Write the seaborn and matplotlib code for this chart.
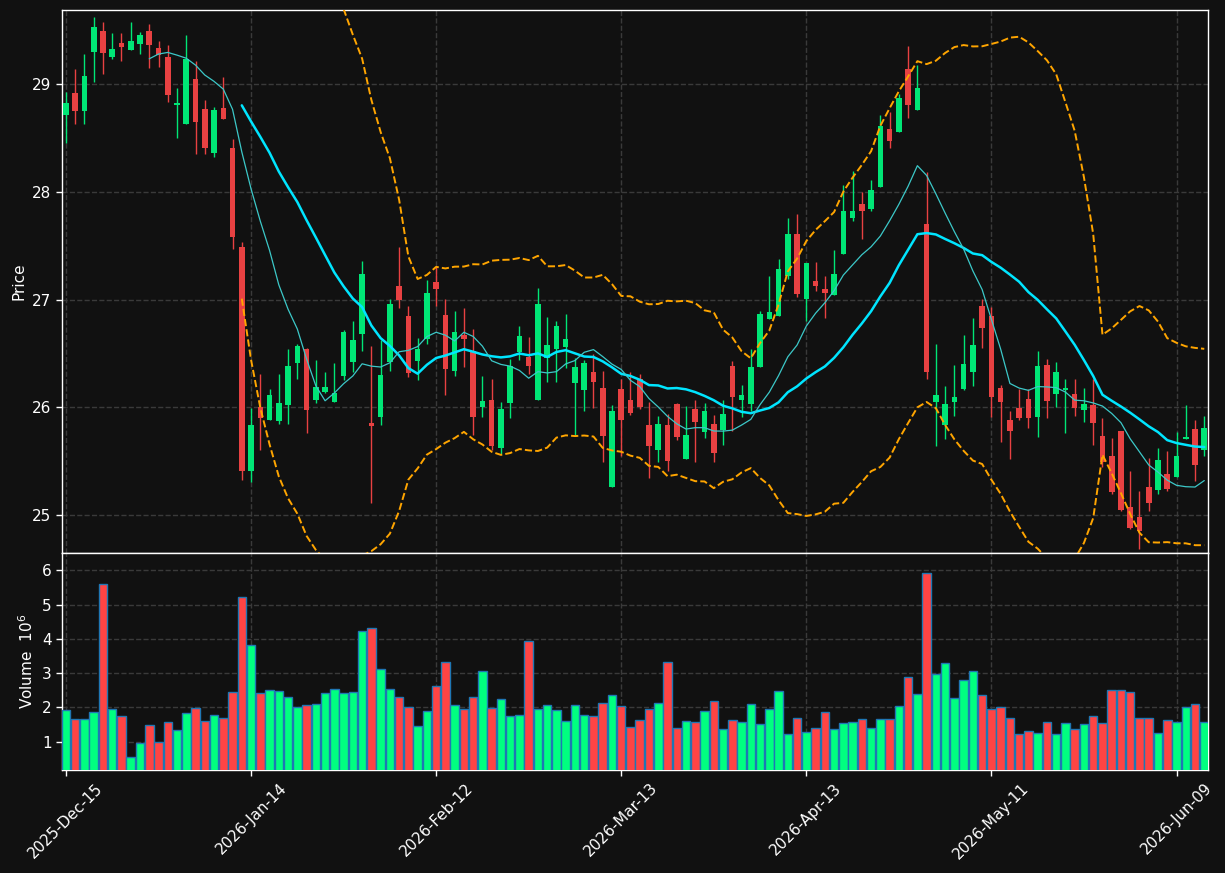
import pandas as pd
import numpy as np
import matplotlib.pyplot as plt
import seaborn as sns

# daily OHLC (124 trading sessions)
opens = [28.72, 28.92, 28.75, 29.30, 29.50, 29.26, 29.39, 29.32, 29.38, 29.50,
         29.34, 29.26, 28.81, 28.63, 29.05, 28.77, 28.36, 28.78, 28.41, 27.49,
         25.41, 26.00, 25.88, 25.87, 26.02, 26.41, 26.54, 26.07, 26.14, 26.05,
         26.29, 26.42, 26.68, 25.85, 25.91, 26.42, 27.13, 26.85, 26.43, 26.63,
         27.16, 26.86, 26.34, 26.67, 26.52, 26.00, 26.07, 25.62, 26.04, 26.51,
         26.47, 26.07, 26.46, 26.54, 26.56, 26.22, 26.16, 26.33, 26.18, 25.26,
         26.17, 26.07, 26.26, 25.83, 25.60, 25.83, 26.03, 25.52, 25.98, 25.77,
         25.84, 25.79, 26.38, 26.07, 26.03, 26.37, 26.82, 26.85, 27.22, 27.61,
         27.01, 27.17, 27.10, 27.04, 27.42, 27.76, 27.89, 27.84, 28.05, 28.59,
         28.56, 29.14, 28.76, 27.70, 26.05, 25.83, 26.05, 26.17, 26.33, 26.94,
         26.85, 26.18, 25.88, 25.99, 26.08, 25.91, 26.39, 26.12, 26.16, 26.12,
         25.97, 26.02, 25.73, 25.55, 25.78, 25.07, 24.98, 25.26, 25.23, 25.38,
         25.35, 25.70, 25.80, 25.60]
highs = [28.93, 29.14, 29.28, 29.63, 29.58, 29.48, 29.48, 29.58, 29.49, 29.56,
         29.40, 29.37, 28.97, 29.46, 29.22, 28.86, 28.79, 29.07, 28.49, 27.54,
         25.99, 26.31, 26.17, 26.31, 26.54, 26.59, 26.55, 26.44, 26.33, 26.41,
         26.72, 26.80, 27.36, 26.57, 26.62, 27.01, 27.49, 26.94, 26.64, 27.18,
         27.30, 27.01, 26.89, 26.92, 26.73, 26.29, 26.26, 26.05, 26.45, 26.75,
         26.65, 27.11, 26.84, 26.80, 26.87, 26.46, 26.44, 26.49, 26.34, 26.02,
         26.26, 26.33, 26.31, 26.05, 25.92, 25.94, 26.04, 26.01, 26.07, 26.04,
         25.93, 26.07, 26.43, 26.21, 26.54, 26.89, 27.22, 27.38, 27.76, 27.80,
         27.34, 27.35, 27.22, 27.46, 28.07, 28.20, 28.00, 28.11, 28.72, 28.74,
         28.91, 29.36, 29.18, 28.19, 26.59, 26.20, 26.39, 26.67, 26.83, 27.01,
         26.93, 26.21, 25.96, 26.17, 26.17, 26.52, 26.45, 26.42, 26.26, 26.26,
         26.18, 26.26, 25.90, 25.71, 25.78, 25.41, 25.22, 25.53, 25.62, 25.59,
         25.77, 26.02, 25.88, 25.92]
lows = [28.46, 28.63, 28.63, 29.02, 29.10, 29.24, 29.22, 29.32, 29.28, 29.15,
        29.16, 28.84, 28.50, 28.63, 28.35, 28.35, 28.33, 28.68, 27.47, 25.32,
        25.30, 25.60, 25.88, 25.84, 25.84, 26.26, 25.76, 26.04, 26.13, 26.05,
        26.25, 26.33, 26.52, 25.11, 25.83, 26.34, 26.92, 26.28, 26.25, 26.59,
        26.94, 26.11, 26.29, 26.37, 25.74, 25.91, 25.60, 25.56, 25.90, 26.44,
        26.31, 26.07, 26.23, 26.23, 26.36, 25.74, 25.96, 25.99, 25.49, 25.26,
        25.55, 25.93, 25.98, 25.34, 25.49, 25.41, 25.69, 25.52, 25.49, 25.71,
        25.49, 25.65, 25.78, 25.91, 25.96, 26.37, 26.82, 26.85, 27.19, 27.02,
        26.80, 27.08, 26.83, 27.04, 27.42, 27.73, 27.56, 27.82, 28.05, 28.41,
        28.56, 28.69, 28.76, 26.26, 25.64, 25.70, 25.92, 26.16, 26.20, 26.55,
        25.91, 25.68, 25.52, 25.88, 25.81, 25.72, 25.90, 26.00, 25.76, 25.92,
        25.86, 25.65, 25.44, 25.19, 25.03, 24.87, 24.68, 25.03, 25.19, 25.22,
        25.35, 25.70, 25.31, 25.55]
closes = [28.83, 28.75, 29.08, 29.53, 29.29, 29.33, 29.35, 29.40, 29.46, 29.37,
          29.27, 28.90, 28.83, 29.24, 28.65, 28.41, 28.76, 28.68, 27.58, 25.41,
          25.83, 25.90, 26.11, 26.04, 26.38, 26.57, 25.97, 26.19, 26.19, 26.13,
          26.70, 26.62, 27.24, 25.82, 26.30, 26.96, 27.00, 26.32, 26.54, 27.06,
          27.10, 26.35, 26.70, 26.63, 25.91, 26.06, 25.64, 25.98, 26.38, 26.66,
          26.38, 26.96, 26.58, 26.75, 26.63, 26.37, 26.41, 26.23, 25.73, 25.96,
          25.88, 25.95, 26.00, 25.64, 25.84, 25.50, 25.72, 25.74, 25.86, 25.96,
          25.57, 25.94, 26.09, 26.11, 26.37, 26.87, 26.88, 27.28, 27.61, 27.05,
          27.34, 27.13, 27.06, 27.24, 27.82, 27.82, 27.82, 28.02, 28.61, 28.47,
          28.87, 28.81, 28.97, 26.33, 26.11, 26.03, 26.09, 26.40, 26.58, 26.74,
          26.09, 26.05, 25.78, 25.90, 25.90, 26.38, 26.06, 26.33, 26.17, 25.99,
          26.03, 25.85, 25.49, 25.21, 25.04, 24.88, 24.85, 25.11, 25.51, 25.24,
          25.55, 25.72, 25.46, 25.81]
# volume in millions
volumes = [1.91, 1.65, 1.65, 1.86, 5.61, 1.94, 1.74, 0.54, 0.95, 1.48,
           1.00, 1.56, 1.33, 1.83, 1.97, 1.59, 1.77, 1.68, 2.44, 5.21,
           3.81, 2.41, 2.50, 2.47, 2.29, 2.00, 2.06, 2.09, 2.41, 2.53,
           2.41, 2.44, 4.22, 4.31, 3.11, 2.53, 2.29, 2.00, 1.45, 1.89,
           2.62, 3.32, 2.06, 1.94, 2.29, 3.05, 1.97, 2.24, 1.74, 1.77,
           3.93, 1.94, 2.06, 1.91, 1.59, 2.06, 1.77, 1.74, 2.12, 2.35,
           2.03, 1.42, 1.62, 1.94, 2.12, 3.32, 1.39, 1.59, 1.56, 1.89,
           2.18, 1.36, 1.62, 1.56, 2.09, 1.51, 1.94, 2.47, 1.21, 1.68,
           1.27, 1.39, 1.86, 1.36, 1.54, 1.56, 1.65, 1.39, 1.65, 1.65,
           2.03, 2.88, 2.38, 5.91, 2.97, 3.29, 2.27, 2.79, 3.05, 2.35,
           1.94, 2.00, 1.68, 1.21, 1.30, 1.24, 1.56, 1.21, 1.54, 1.36,
           1.51, 1.74, 1.54, 2.50, 2.50, 2.44, 1.68, 1.68, 1.24, 1.62,
           1.56, 2.00, 2.09, 1.56]

holidays = ['2025-12-25', '2026-01-01', '2026-01-19', '2026-02-16',
            '2026-04-03', '2026-05-25']
dates = pd.bdate_range('2025-12-15', periods=len(closes), freq='C', holidays=holidays)

df = pd.DataFrame({'Open': opens, 'High': highs, 'Low': lows,
                   'Close': closes, 'Volume': volumes}, index=dates)
df['x'] = np.arange(len(df))
df['ma10'] = df['Close'].rolling(10).mean()
df['ma20'] = df['Close'].rolling(20).mean()
sd = df['Close'].rolling(20).std(ddof=0)
df['upper'] = df['ma20'] + 2 * sd
df['lower'] = df['ma20'] - 2 * sd

bg = '#111111'
sns.set_theme(style='dark', rc={
    'axes.facecolor': bg, 'figure.facecolor': bg, 'axes.edgecolor': 'white',
    'text.color': 'white', 'axes.labelcolor': 'white',
    'xtick.color': 'white', 'ytick.color': 'white',
    'xtick.bottom': True, 'ytick.left': True,
    'grid.color': '#3a3a3a', 'grid.linestyle': '--', 'grid.linewidth': 1.0,
    'font.size': 11, 'axes.labelsize': 11,
    'xtick.labelsize': 11, 'ytick.labelsize': 11,
})
plt.rcParams['font.family'] = ['DejaVu Sans']

up_c, dn_c = '#00e676', '#e84142'
vup_c, vdn_c = '#00ff80', '#ff4444'
is_up = df['Close'] >= df['Open']

fig = plt.figure(figsize=(12.25, 8.73), dpi=100)
ax1 = fig.add_axes([0.0506, 0.3666, 0.9355, 0.622])
ax2 = fig.add_axes([0.0506, 0.118, 0.9355, 0.2486], sharex=ax1)

# candles
ccol = np.where(is_up, up_c, dn_c)
ax1.vlines(df['x'], df['Low'], df['High'], colors=ccol, lw=1, zorder=2)
body = (df['Close'] - df['Open']).where(lambda s: s.abs() > 0.015, 0.015)
ax1.bar(df['x'], body, bottom=df['Open'], width=0.6, color=ccol,
        edgecolor=ccol, lw=0, zorder=3)

# moving averages and bands
sns.lineplot(data=df, x='x', y='ma20', ax=ax1, color='#00e5ff', lw=1.8, zorder=4)
sns.lineplot(data=df, x='x', y='ma10', ax=ax1, color='#3cc8c8', lw=0.9, zorder=4)
sns.lineplot(data=df, x='x', y='upper', ax=ax1, color='orange', lw=1.4, ls='--', zorder=4)
sns.lineplot(data=df, x='x', y='lower', ax=ax1, color='orange', lw=1.4, ls='--', zorder=4)

# volume
vcol = np.where(is_up, vup_c, vdn_c)
ax2.bar(df['x'], df['Volume'], width=0.92, color=vcol, edgecolor='#1f77b4', lw=1, zorder=3)

ax1.set_xlim(-0.43, 123.4)
ax1.set_ylim(24.644, 29.693)
ax2.set_ylim(0.175, 6.504)
ax1.set_yticks([25, 26, 27, 28, 29])
ax2.set_yticks([1, 2, 3, 4, 5, 6])

tick_pos = list(range(0, len(df), 20))
ax2.set_xticks(tick_pos)
ax2.set_xticklabels([d.strftime('%Y-%b-%d') for d in df.index[tick_pos]],
                    rotation=45, ha='center')
ax1.tick_params(labelbottom=False, bottom=False)

for ax in (ax1, ax2):
    ax.grid(True, color='#3a3a3a', ls='--', lw=1)
    ax.set_xlabel('')
    for s in ax.spines.values():
        s.set_color('white')
        s.set_linewidth(1)
    ax.tick_params(length=4, width=1, colors='white')

ax1.set_ylabel('Price')
ax2.set_ylabel('Volume  $10^{6}$')

fig.savefig('out.png', dpi=100, facecolor=bg)
